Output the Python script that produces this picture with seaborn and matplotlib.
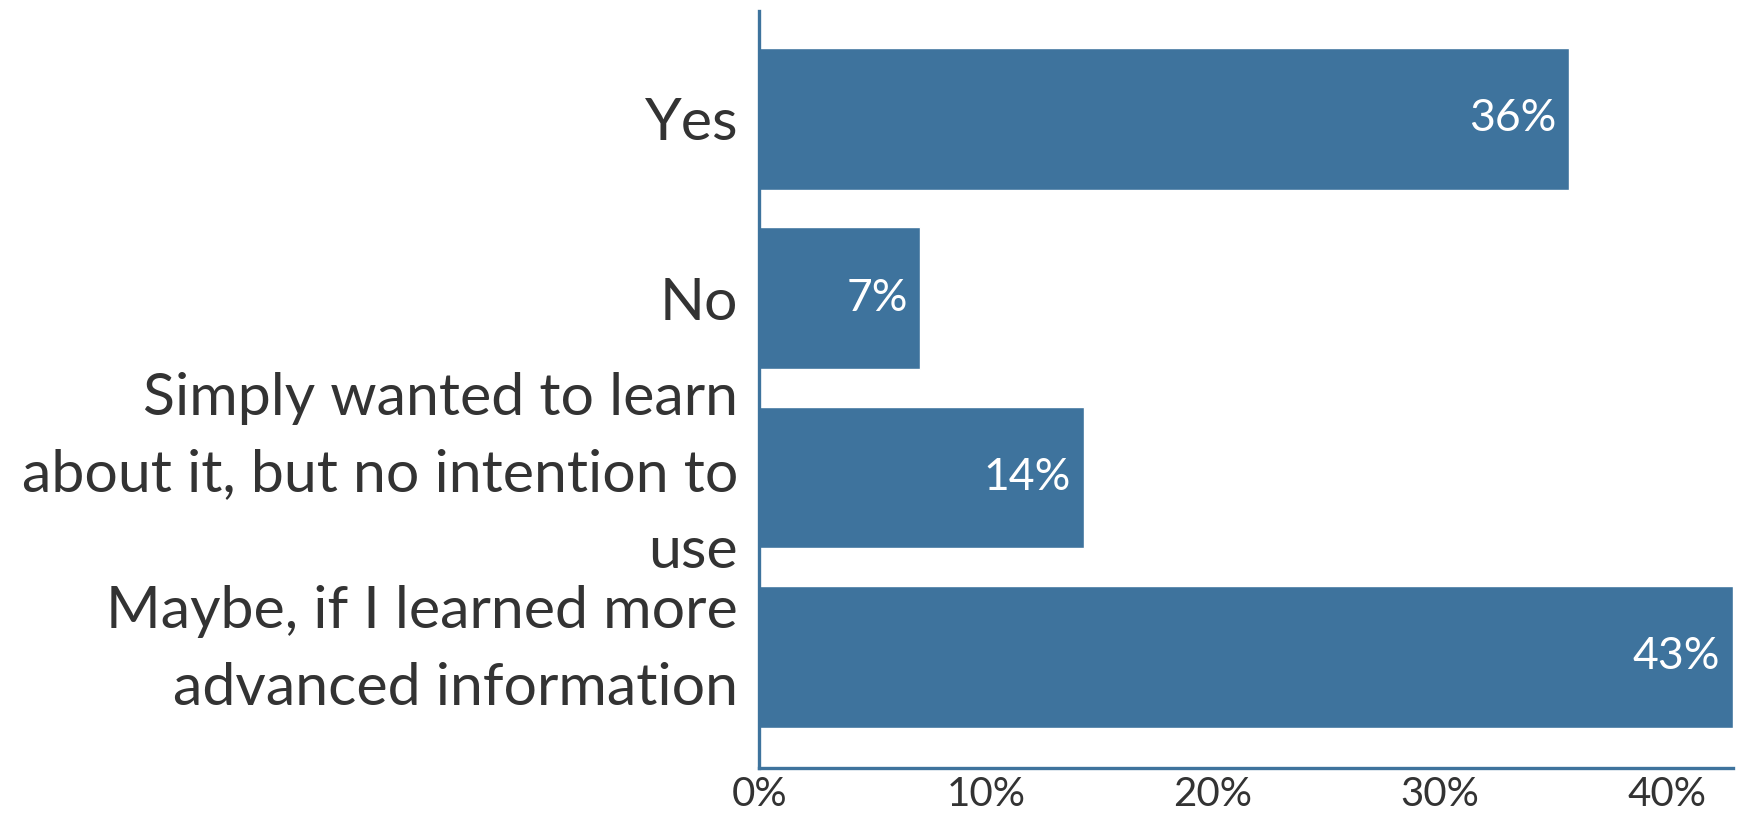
import matplotlib
matplotlib.use("Agg")
import matplotlib.pyplot as plt
import matplotlib.ticker as mticker
import pandas as pd
import seaborn as sns

# Survey responses and their shares (%)
answers = [
    "Yes",
    "No",
    "Simply wanted to learn\nabout it, but no intention to\nuse",
    "Maybe, if I learned more\nadvanced information",
]
shares = [35.7, 7.1, 14.3, 42.9]
x_ticks = [0, 10, 20, 30, 40]

bar_color = "#3e739d"
text_color = "#333333"

sns.set_theme(style="white")
plt.rcParams["font.family"] = ["Lato", "DejaVu Sans"]

df = pd.DataFrame({"answer": answers, "share": shares})

fig = plt.figure(figsize=(17.37, 8.17), dpi=100)
ax = fig.add_axes([0.437, 0.06, 0.5605, 0.9265])

sns.barplot(data=df, x="share", y="answer", color=bar_color, saturation=1,
            width=0.79, ax=ax)

ax.set_xlim(0, max(shares))
ax.set_ylim(len(answers) - 0.38, -0.6)
ax.set_xlabel("")
ax.set_ylabel("")
ax.set_xticks(x_ticks)
ax.xaxis.set_major_formatter(mticker.FuncFormatter(lambda v, p: f"{v:.0f}%"))

for side in ["top", "right"]:
    ax.spines[side].set_visible(False)
for side in ["left", "bottom"]:
    ax.spines[side].set_color(bar_color)
    ax.spines[side].set_linewidth(2.4)

ax.tick_params(axis="x", which="major", direction="out", length=5, width=2.4,
               color=bar_color, labelsize=29, labelcolor=text_color, pad=1)
ax.tick_params(axis="y", length=0, labelleft=False)

# Category labels: wrapped labels sit a little above the bar centre
ytrans = ax.get_yaxis_transform()
for i, text in enumerate(answers):
    n_lines = text.count("\n") + 1
    lift = {1: 0, 2: 17, 3: 14}[n_lines]
    ax.annotate(text, xy=(0, i), xycoords=ytrans,
                xytext=(-15, lift), textcoords="offset points",
                ha="right", va="center_baseline", multialignment="right",
                linespacing=1.55, fontsize=42.5, color=text_color,
                annotation_clip=False)

for patch, val in zip(ax.patches, shares):
    y = patch.get_y() + patch.get_height() / 2
    ax.annotate(f"{round(val):d}%", xy=(patch.get_width(), y),
                xytext=(-9, 0), textcoords="offset points",
                ha="right", va="center", color="white", fontsize=32)

fig.savefig("out.png", dpi=100)
